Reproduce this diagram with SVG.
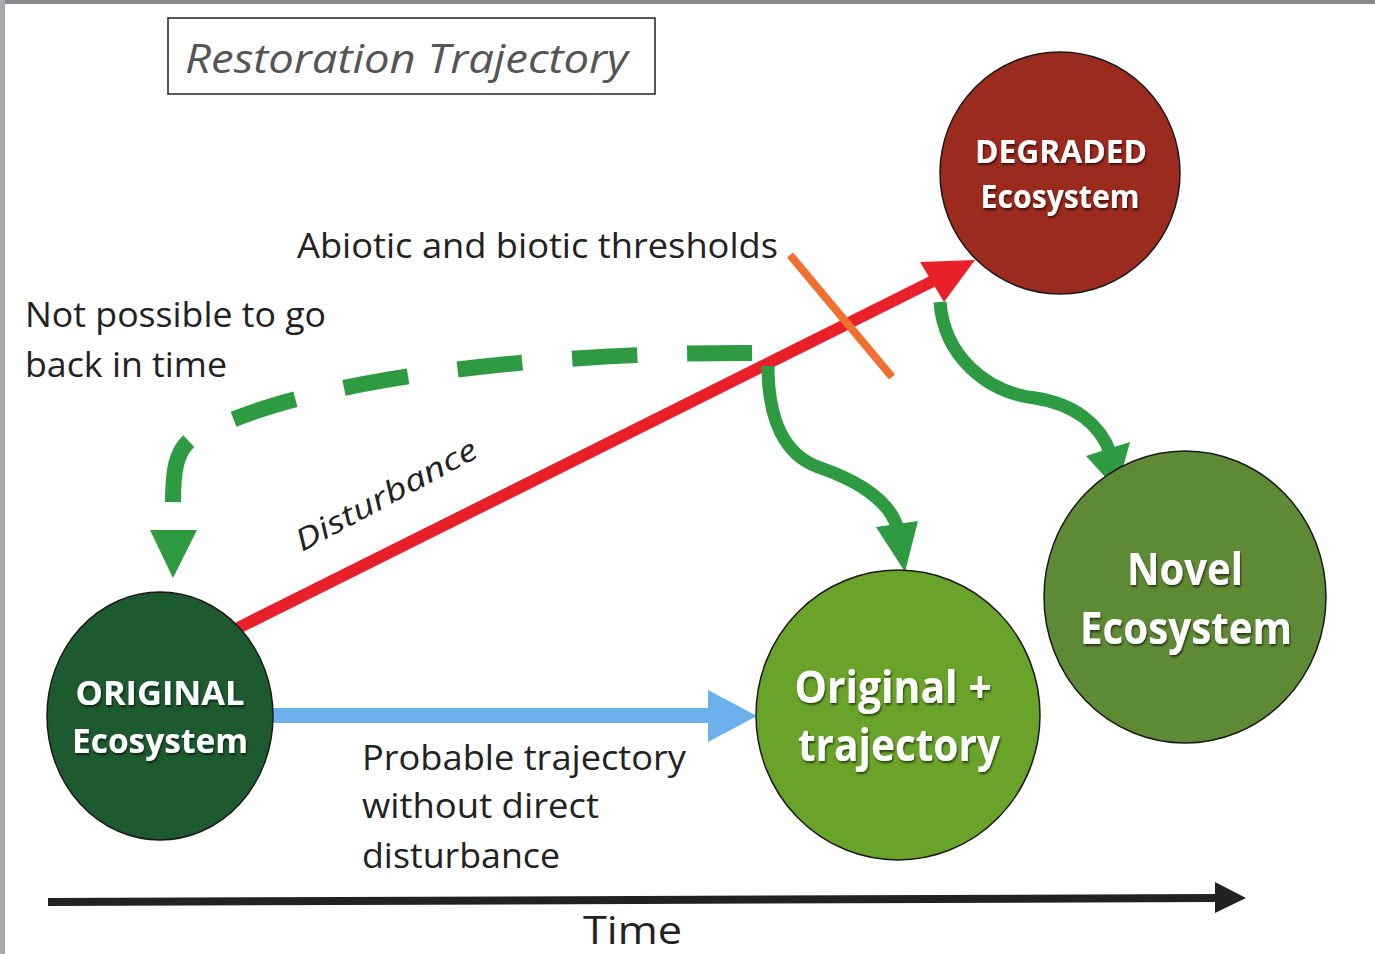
<svg xmlns="http://www.w3.org/2000/svg" width="1375" height="954" viewBox="0 0 1375 954">
<style>
.lbl{font-family:"Open Sans","Liberation Sans",sans-serif;fill:#222;}
.nt{font-family:"Open Sans","Liberation Sans",sans-serif;font-weight:bold;fill:#fff;text-anchor:middle;}
.node{stroke:#1a1a1a;stroke-width:1.5;}
.g{fill:none;stroke:#2e9a42;}
</style>
<defs>
<filter id="sh" x="-10%" y="-10%" width="120%" height="130%"><feDropShadow dx="1" dy="2" stdDeviation="1" flood-color="#000" flood-opacity="0.6"/></filter>
</defs>
<rect width="1375" height="954" fill="#fff"/>
<rect x="0" y="0" width="1375" height="4" fill="#8a8a8e"/>
<rect x="0" y="0" width="5" height="954" fill="#a8a8ae"/>

<g id="title">
<rect x="168" y="18" width="487" height="76" fill="#fff" stroke="#222" stroke-width="1.5"/>
<text class="lbl" x="185" y="73" font-size="40" font-style="italic" style="fill:#555" textLength="443" lengthAdjust="spacingAndGlyphs">Restoration Trajectory</text>
</g>

<g id="connectors">
<line x1="48" y1="902" x2="1218" y2="898" stroke="#222" stroke-width="8"/>
<polygon points="1215,882 1246,898 1215,913" fill="#222"/>
<rect x="270" y="708" width="440" height="15" fill="#6ab0ea"/>
<polygon points="708,690 757,716 708,742" fill="#6ab0ea"/>
<path class="g" d="M752,353 C560,352 300,375 190,440 C176,452 173,470 173,505" stroke-width="16" stroke-dasharray="65,50"/>
<polygon points="150,530 197,530 173,578" fill="#2e9a42"/>
<line x1="238" y1="628" x2="935" y2="280" stroke="#e8202a" stroke-width="12"/>
<polygon points="920,262 975,260 944,302" fill="#e8202a"/>
<line x1="790" y1="255" x2="892" y2="377" stroke="#f07030" stroke-width="8"/>
<path class="g" d="M768,366 C768,420 785,455 818,467 C865,483 892,505 898,530" stroke-width="13"/>
<polygon points="876,527 918,521 905,572" fill="#2e9a42"/>
<path class="g" d="M940,302 C944,355 985,392 1035,398 C1075,404 1100,425 1110,452" stroke-width="13"/>
<polygon points="1086,456 1130,442 1117,490" fill="#2e9a42"/>
</g>

<g id="node-degraded">
<ellipse class="node" cx="1060" cy="173" rx="120" ry="121" fill="#9b2a1f"/>
<text class="nt" x="1061" y="163" font-size="32" filter="url(#sh)" textLength="172" lengthAdjust="spacingAndGlyphs">DEGRADED</text>
<text class="nt" x="1060" y="208" font-size="32" filter="url(#sh)" textLength="159" lengthAdjust="spacingAndGlyphs">Ecosystem</text>
</g>

<g id="node-original">
<ellipse class="node" cx="160" cy="716" rx="113" ry="124" fill="#1e5a30"/>
<text class="nt" x="160" y="705" font-size="34" filter="url(#sh)" textLength="169" lengthAdjust="spacingAndGlyphs">ORIGINAL</text>
<text class="nt" x="160" y="753" font-size="34" filter="url(#sh)" textLength="176" lengthAdjust="spacingAndGlyphs">Ecosystem</text>
</g>

<g id="node-original-trajectory">
<ellipse class="node" cx="898" cy="715" rx="142" ry="145" fill="#6aa32a"/>
<text class="nt" x="893" y="703" font-size="44" filter="url(#sh)" textLength="197" lengthAdjust="spacingAndGlyphs">Original +</text>
<text class="nt" x="899" y="761" font-size="44" filter="url(#sh)" textLength="202" lengthAdjust="spacingAndGlyphs">trajectory</text>
</g>

<g id="node-novel">
<ellipse class="node" cx="1185" cy="597" rx="141" ry="146" fill="#5f8a35"/>
<text class="nt" x="1185" y="585" font-size="44" filter="url(#sh)" textLength="116" lengthAdjust="spacingAndGlyphs">Novel</text>
<text class="nt" x="1186" y="644" font-size="44" filter="url(#sh)" textLength="212" lengthAdjust="spacingAndGlyphs">Ecosystem</text>
</g>

<g id="labels">
<text class="lbl" x="297" y="258" font-size="34" textLength="481" lengthAdjust="spacingAndGlyphs">Abiotic and biotic thresholds</text>
<text class="lbl" x="25" y="327" font-size="34" textLength="301" lengthAdjust="spacingAndGlyphs">Not possible to go</text>
<text class="lbl" x="25" y="377" font-size="34" textLength="202" lengthAdjust="spacingAndGlyphs">back in time</text>
<text class="lbl" x="0" y="0" font-size="30" font-style="italic" transform="translate(302,552) rotate(-28.3)" textLength="202" lengthAdjust="spacingAndGlyphs">Disturbance</text>
<text class="lbl" x="362" y="770" font-size="34" textLength="324" lengthAdjust="spacingAndGlyphs">Probable trajectory</text>
<text class="lbl" x="362" y="818" font-size="34" textLength="237" lengthAdjust="spacingAndGlyphs">without direct</text>
<text class="lbl" x="362" y="868" font-size="34" textLength="198" lengthAdjust="spacingAndGlyphs">disturbance</text>
<text class="lbl" x="583" y="944" font-size="38" textLength="99" lengthAdjust="spacingAndGlyphs">Time</text>
</g>
</svg>
